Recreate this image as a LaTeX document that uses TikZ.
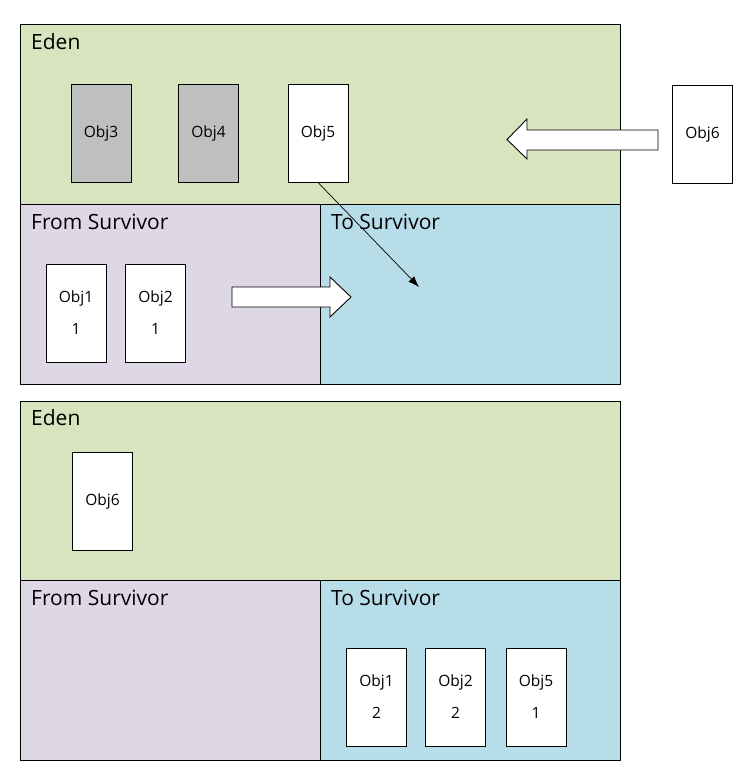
\documentclass[tikz,border=0pt]{standalone}
\usepackage{fontspec}
\setmainfont{Open Sans}
\usetikzlibrary{arrows.meta}
\definecolor{edenc}{HTML}{D7E4BD}
\definecolor{fromc}{HTML}{DED8E6}
\definecolor{toc}{HTML}{B7DDE8}
\definecolor{grayc}{HTML}{BFBFBF}
\begin{document}
\begin{tikzpicture}[x=1pt,y=-1pt,
  region/.style={draw=black, line width=0.9pt, anchor=north west, inner sep=0pt},
  regionlabel/.style={anchor=base west, inner sep=0pt, font=\fontsize{21}{24}\selectfont},
  objbox/.style={draw=black, line width=0.9pt, fill=white, minimum width=60pt, minimum height=98pt, inner sep=0pt, align=center, font=\fontsize{15.5}{32}\selectfont},
  blockarrow/.style={draw=black, line width=0.9pt, fill=white, line join=miter},
  thinarrow/.style={draw=black, line width=0.7pt, -{Latex[length=11pt,width=8pt]}}
]
\useasboundingbox (0,0) rectangle (747,779);
% top diagram
\node[region, fill=edenc, minimum width=600pt, minimum height=180pt] (eden1) at (20,24) {};
\node[region, fill=fromc, minimum width=300pt, minimum height=180pt] (from1) at (20,204) {};
\node[region, fill=toc, minimum width=300pt, minimum height=180pt] (to1) at (320,204) {};
\node[regionlabel] (edenl1) at (31,49) {Eden};
\node[regionlabel] (froml1) at (31,229) {From Survivor};
\node[regionlabel] (tol1) at (331,229) {To Survivor};
\node[objbox, fill=grayc] (o3) at (101,133) {Obj3};
\node[objbox, fill=grayc] (o4) at (208.5,133) {Obj4};
\node[objbox] (o5) at (318,133) {Obj5};
\node[objbox] (o6) at (702.5,134) {Obj6};
\node[objbox] (o1) at (76,313) {Obj1\\1};
\node[objbox] (o2) at (155.5,313) {Obj2\\1};
% block arrows
\draw[blockarrow] (658,130) -- (527,130) -- (527,119) -- (507,139.5) -- (527,159) -- (527,150) -- (658,150) -- cycle;
\draw[blockarrow] (232,287) -- (330,287) -- (330,277) -- (351,297) -- (330,317) -- (330,307) -- (232,307) -- cycle;
\coordinate (tgt) at (419,287);
\draw[thinarrow] (o5.south) -- (tgt);
% bottom diagram
\node[region, fill=edenc, minimum width=600pt, minimum height=179pt] (eden2) at (20,401) {};
\node[region, fill=fromc, minimum width=300pt, minimum height=180pt] (from2) at (20,580) {};
\node[region, fill=toc, minimum width=300pt, minimum height=180pt] (to2) at (320,580) {};
\node[regionlabel] (edenl2) at (31,425) {Eden};
\node[regionlabel] (froml2) at (31,605) {From Survivor};
\node[regionlabel] (tol2) at (331,605) {To Survivor};
\node[objbox] (b6) at (102.5,501.5) {Obj6};
\node[objbox] (b1) at (376.5,697) {Obj1\\2};
\node[objbox] (b2) at (455.5,697) {Obj2\\2};
\node[objbox] (b5) at (536,697) {Obj5\\1};
\end{tikzpicture}
\end{document}
